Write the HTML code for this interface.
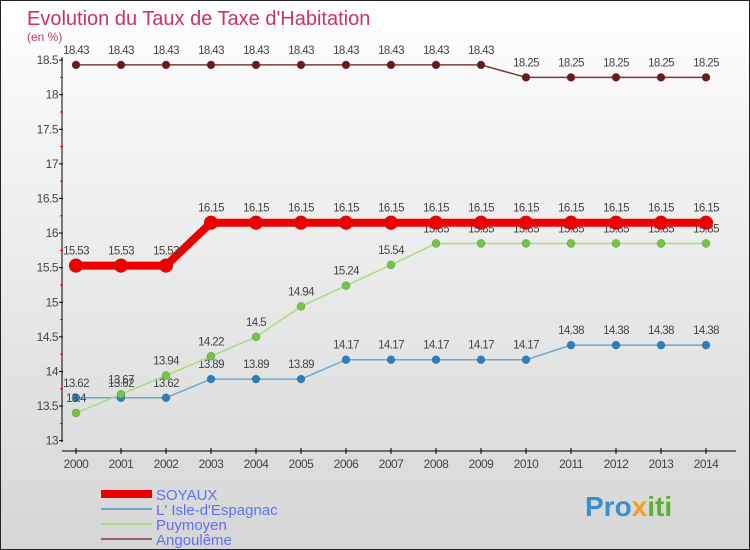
<!DOCTYPE html>
<html><head><meta charset="utf-8"><style>
body{margin:0;}
#c{width:750px;height:550px;position:relative;background:linear-gradient(#ffffff,#f2f2f2 30%,#d6d6d6);box-sizing:border-box;border:1px solid #222;font-family:"Liberation Sans",sans-serif;overflow:hidden}
svg{position:absolute;left:0;top:0}
</style></head><body>
<div id="c">
<svg id="s" width="750" height="550">
<text x="26" y="24" font-size="20" fill="#c8326a">Evolution du Taux de Taxe d'Habitation</text>
<text x="26" y="40" font-size="12" fill="#c8326a">(en %)</text>
<g id="ax"></g><g id="ser"></g>
<text x="584" y="515" font-size="28" font-weight="bold" fill="#3a8fd0">Pro<tspan fill="#f0a020">x</tspan><tspan fill="#60b030">iti</tspan></text>
</svg>
</div>
<script>
const years=[2000,2001,2002,2003,2004,2005,2006,2007,2008,2009,2010,2011,2012,2013,2014];
const soyaux=[15.53,15.53,15.53,16.15,16.15,16.15,16.15,16.15,16.15,16.15,16.15,16.15,16.15,16.15,16.15];
const isle=[13.62,13.62,13.62,13.89,13.89,13.89,14.17,14.17,14.17,14.17,14.17,14.38,14.38,14.38,14.38];
const puy=[13.4,13.67,13.94,14.22,14.5,14.94,15.24,15.54,15.85,15.85,15.85,15.85,15.85,15.85,15.85];
const ang=[18.43,18.43,18.43,18.43,18.43,18.43,18.43,18.43,18.43,18.43,18.25,18.25,18.25,18.25,18.25];
const yTicks=[13,13.5,14,14.5,15,15.5,16,16.5,17,17.5,18,18.5];
const NS="http://www.w3.org/2000/svg";
const X=i=>75+i*45;
const Y=v=>412-(v-13.4)*69.2;
function mk(t,a,p){const e=document.createElementNS(NS,t);for(const k in a)e.setAttribute(k,a[k]);p.appendChild(e);return e;}
const ax=document.getElementById('ax'),ser=document.getElementById('ser');
let e;
e=mk('line',{x1:61,y1:56,x2:61,y2:441,stroke:'#000'},ax);


e=mk('line',{x1:61,y1:450,x2:735,y2:450,stroke:'#000'},ax);


yTicks.forEach((v,i)=>{
 e=mk('line',{x1:58,y1:Y(v),x2:62,y2:Y(v),stroke:'#000'},ax);
 
 
 if(i<yTicks.length-1){e=mk('line',{x1:59,y1:Y(v+0.25),x2:62,y2:Y(v+0.25),stroke:'#e00'},ax);
 
 }
 e=mk('text',{x:57,y:Y(v)+4,'text-anchor':'end','font-size':12,fill:'#444','letter-spacing':'-0.5'},ax);e.textContent=String(v);
 
 
});
years.forEach((y,i)=>{
 e=mk('line',{x1:X(i),y1:447,x2:X(i),y2:453,stroke:'#000'},ax);
 
 
 e=mk('text',{x:X(i),y:467,'text-anchor':'middle','font-size':12,fill:'#444','letter-spacing':'-0.5'},ax);e.textContent=y;
 
 
});
function series(data,color,w,r,name,dot){
 e=mk('polyline',{points:data.map((v,i)=>X(i)+','+Y(v)).join(' '),fill:'none',stroke:color,'stroke-width':w},ser);
 
 
 data.forEach((v,i)=>{
  e=mk('circle',{cx:X(i),cy:Y(v),r:r,fill:dot,stroke:'#555','stroke-width':0.3},ser);
  
  
  e=mk('text',{x:X(i),y:Y(v)-11,'text-anchor':'middle','font-size':11.5,fill:'#444','letter-spacing':'-0.6'},ser);e.textContent=String(v);
  
  
 });
}
series(ang,'#7a3a3a',1.5,4,'angouleme','#6a1a1a');
series(isle,'#6fa8cc',1.5,4,'isle-espagnac','#2a7fc0');
series(puy,'#a8dc80',1.5,4,'puymoyen','#70c840');
series(soyaux,'#ee0000',8,7,'soyaux','#ee0000');
const leg=[['SOYAUX','#ee0000',8],["L' Isle-d'Espagnac",'#6fa8cc',2],['Puymoyen','#a8dc80',2],['Angoulême','#9a6060',2]];
leg.forEach((l,i)=>{
 const y=493+i*15;
 e=mk('line',{x1:100,y1:y,x2:151,y2:y,stroke:l[1],'stroke-width':l[2]},ser);
 
 
 e=mk('text',{x:155,y:y+6,'font-size':15,fill:'#6070f0'},ser);e.textContent=l[0];
 
 
});
</script>
</body></html>
